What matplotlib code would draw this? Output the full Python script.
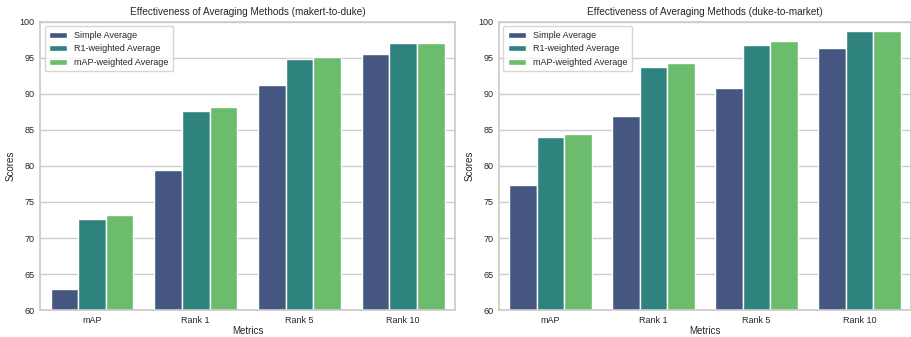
import numpy as np
import pandas as pd
import matplotlib
matplotlib.use("Agg")
import matplotlib.pyplot as plt
import seaborn as sns

metrics = ["mAP", "Rank 1", "Rank 5", "Rank 10"]
methods = ["Simple Average", "R1-weighted Average", "mAP-weighted Average"]

# market -> duke
m2d_simple = [62.9, 79.5, 91.3, 95.5]
m2d_r1 = [72.7, 87.7, 94.8, 97.1]
m2d_map = [73.2, 88.2, 95.1, 97.1]

# duke -> market
d2m_simple = [77.4, 87.0, 90.8, 96.4]
d2m_r1 = [84.0, 93.8, 96.8, 98.7]
d2m_map = [84.5, 94.3, 97.3, 98.8]


def to_long(simple, r1, mapw):
    rows = []
    for name, vals in zip(methods, [simple, r1, mapw]):
        for m, v in zip(metrics, vals):
            rows.append({"Metrics": m, "Method": name, "Scores": v})
    return pd.DataFrame(rows)


sns.set_theme(style="whitegrid")
plt.rcParams["font.family"] = ["Liberation Sans", "DejaVu Sans"]

fig = plt.figure(figsize=(9.12, 3.37), dpi=100)
ax1 = fig.add_axes([0.044, 0.080, 0.455, 0.855])
ax2 = fig.add_axes([0.547, 0.080, 0.452, 0.855])

panels = [
    (ax1, to_long(m2d_simple, m2d_r1, m2d_map), "Effectiveness of Averaging Methods (makert-to-duke)"),
    (ax2, to_long(d2m_simple, d2m_r1, d2m_map), "Effectiveness of Averaging Methods (duke-to-market)"),
]

for ax, df, title in panels:
    sns.barplot(data=df, x="Metrics", y="Scores", hue="Method",
                palette="viridis", ax=ax)
    ax.set_ylim(60, 100)
    ax.set_yticks(np.arange(60, 101, 5))
    ax.set_title(title, fontsize=7.2, pad=5)
    ax.set_xlabel("Metrics", fontsize=7, labelpad=1)
    ax.set_ylabel("Scores", fontsize=7, labelpad=3)
    ax.tick_params(axis="both", labelsize=6.5, length=0, pad=4)
    ax.legend(loc="upper left", fontsize=6.5, title=None, frameon=True,
              borderpad=0.5, labelspacing=0.5)

fig.savefig("out.png", dpi=100)
